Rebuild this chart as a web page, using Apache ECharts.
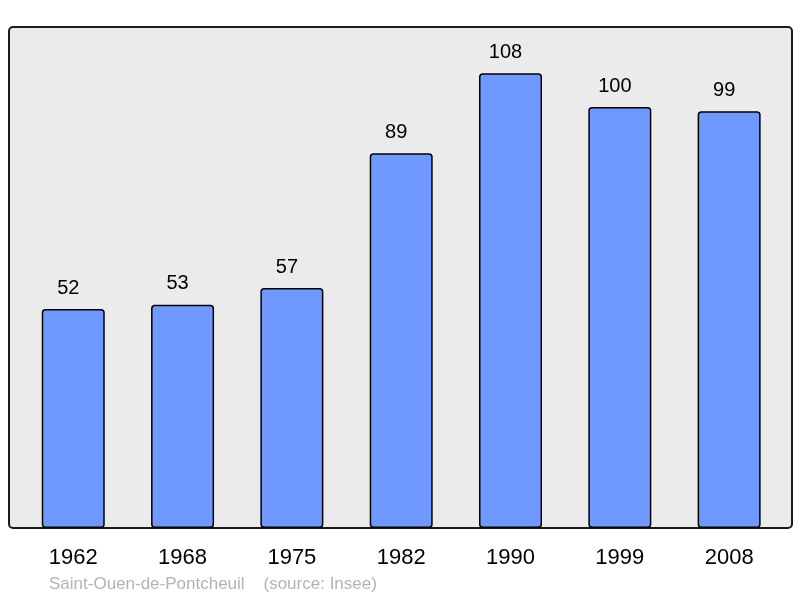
<!DOCTYPE html>
<html><head><meta charset="utf-8">
<script src="https://cdn.jsdelivr.net/npm/echarts@6/dist/echarts.min.js"></script>
<style>html,body{margin:0;padding:0;background:#fff}#c{width:800px;height:598px}</style>
</head><body><div id="c"></div>
<script>
const years = ['1962','1968','1975','1982','1990','1999','2008'];
const population = [52, 53, 57, 89, 108, 100, 99];
const commune = 'Saint-Ouen-de-Pontcheuil';
const sourceText = '(source: Insee)';

const chart = echarts.init(document.getElementById('c'));
chart.setOption({
  animation: false,
  backgroundColor: '#ffffff',
  graphic: [
    { type: 'rect', z: -10, shape: { x: 9, y: 27, width: 783, height: 501, r: 4 },
      style: { fill: '#ebebeb', stroke: '#1a1a1a', lineWidth: 2 } },
    { type: 'text', left: 49, top: 576,
      style: { text: commune + '    ' + sourceText, fill: '#b3b3b3', font: '17px "Liberation Sans", Arial, sans-serif' } }
  ],
  grid: { left: 18.6, width: 765.2, top: 27, height: 501 },
  xAxis: {
    type: 'category', data: years,
    axisLine: { show: false }, axisTick: { show: false },
    axisLabel: { margin: 19, fontSize: 22, color: '#000', fontFamily: '"Liberation Sans", Arial, sans-serif' }
  },
  yAxis: { type: 'value', min: 0, max: 119, show: false, splitLine: { show: false } },
  series: [{
    type: 'bar', data: population, barWidth: 63,
    itemStyle: { color: '#7099ff', borderColor: '#000', borderWidth: 1.5, borderRadius: 3 },
    label: { show: true, position: 'top', distance: 11, offset: [-5, 0], fontSize: 20, color: '#000',
      fontFamily: '"Liberation Sans", Arial, sans-serif' }
  }]
});
</script></body></html>
